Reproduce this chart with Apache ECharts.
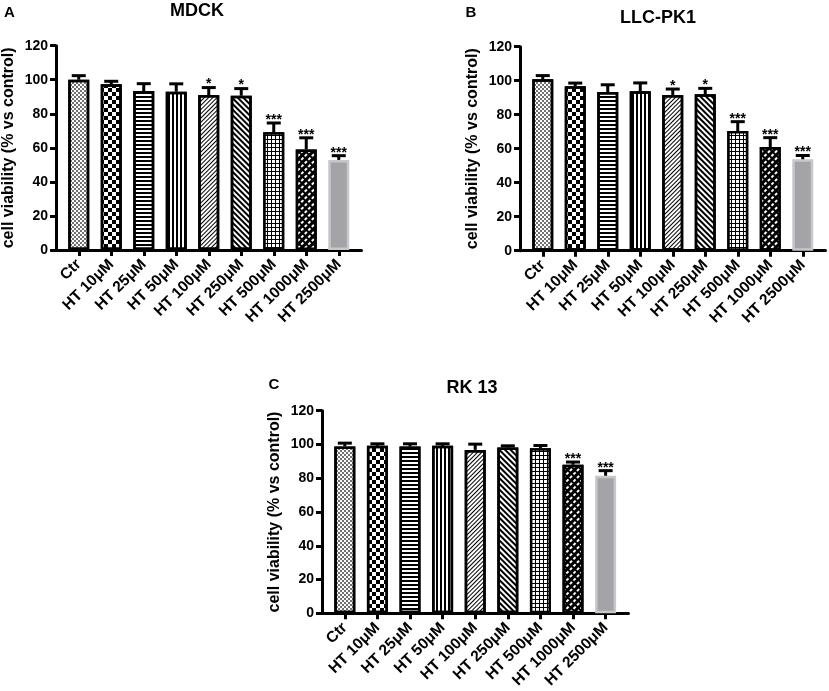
<!DOCTYPE html>
<html>
<head>
<meta charset="utf-8">
<script src="https://cdn.jsdelivr.net/npm/echarts@6/dist/echarts.min.js"></script>
<style>
  html, body { margin: 0; background: #fff; }
  #chart { width: 829px; height: 691px; }
</style>
</head>
<body>
<div id="chart"></div>
<script>
const categories = ['Ctr', 'HT 10μM', 'HT 25μM', 'HT 50μM', 'HT 100μM', 'HT 250μM', 'HT 500μM', 'HT 1000μM', 'HT 2500μM'];
const yTicks = [0, 20, 40, 60, 80, 100, 120];

// cell viability, mean and SD (% vs control)
const mdckMean = [100, 97.3, 93.4, 93, 91, 90.6, 69.1, 59.1, 52.9];
const mdckSd = [2.4, 1.8, 4.3, 4.6, 4.4, 4.2, 5.5, 6.8, 2.5];
const mdckStars = ['', '', '', '', '*', '*', '***', '***', '***'];

const llcMean = [100.8, 96.8, 93.3, 93.8, 91.6, 92, 70.4, 61, 53.8];
const llcSd = [2.2, 1.8, 4.3, 4.9, 3.5, 3.5, 5.5, 5.5, 2.2];
const llcStars = ['', '', '', '', '*', '*', '***', '***', '***'];

const rkMean = [98.8, 99.2, 98.8, 99.2, 96.8, 98.2, 97.8, 88, 81.5];
const rkSd = [2, 1.2, 1.6, 1.2, 3.4, 1, 1.6, 1.6, 3];
const rkStars = ['', '', '', '', '', '', '', '***', '***'];

const FONT = '"Liberation Sans", Arial, sans-serif';

// one fill per dose, GraphPad-like hatches
const fills = [
  { color: '#fff', decal: { color: '#222', symbol: 'rect', symbolSize: 0.85, dashArrayX: [[1.5, 1.5], [0, 1.5, 1.5, 0]], dashArrayY: [1.5, 0] } },
  { color: '#fff', decal: { color: '#000', symbol: 'rect', symbolSize: 1, dashArrayX: [[3.5, 3.5], [0, 3.5, 3.5, 0]], dashArrayY: [3.5, 0] } },
  { color: '#fff', decal: { color: '#000', symbol: 'rect', symbolSize: 1, dashArrayX: [1, 0], dashArrayY: [2, 1.3] } },
  { color: '#fff', decal: { color: '#000', symbol: 'rect', symbolSize: 1, dashArrayX: [1.6, 1.4], dashArrayY: [1, 0] } },
  { color: '#fff', decal: { color: '#000', symbol: 'rect', symbolSize: 1, dashArrayX: [1, 0], dashArrayY: [1, 1.6], rotation: -Math.PI / 4 } },
  { color: '#fff', decal: { color: '#000', symbol: 'rect', symbolSize: 1, dashArrayX: [1, 0], dashArrayY: [1.3, 1.3], rotation: Math.PI / 4 } },
  { color: '#000', decal: { color: '#fff', symbol: 'rect', symbolSize: 1, dashArrayX: [2.2, 1], dashArrayY: [2.2, 1] } },
  { color: '#000', decal: { color: '#fff', symbol: 'rect', symbolSize: 1, dashArrayX: [3, 2], dashArrayY: [1.2, 2.2], rotation: -Math.PI / 4 } },
  { color: '#a4a4a8', border: '#c8c8cc' }
];

const panels = [
  { title: 'MDCK', letter: 'A', mean: mdckMean, sd: mdckSd, stars: mdckStars,
    left: 56, top: 45.7, height: 204.3, step: 32.5, letterX: 9.5, letterY: 13, titleX: 197, titleY: 11 },
  { title: 'LLC-PK1', letter: 'B', mean: llcMean, sd: llcSd, stars: llcStars,
    left: 520, top: 46.7, height: 204, step: 32.5, letterX: 471, letterY: 13, titleX: 658, titleY: 18 },
  { title: 'RK 13', letter: 'C', mean: rkMean, sd: rkSd, stars: rkStars,
    left: 322, top: 410.7, height: 203.6, step: 32.6, letterX: 274, letterY: 385, titleX: 472, titleY: 388 }
];

const xTicks = categories.map((_, i) => i);
const boldText = (size) => ({ fontFamily: FONT, fontWeight: 'bold', fontSize: size, color: '#000' });

const barStyle = (j) => {
  const style = { color: fills[j].color, borderColor: fills[j].border || '#000', borderWidth: 2.5 };
  if (fills[j].decal) style.decal = fills[j].decal;
  return style;
};

const option = {
  backgroundColor: '#fff',
  animation: false,
  textStyle: { fontFamily: FONT },
  grid: panels.map((p) => ({ left: p.left, top: p.top, width: 9.4 * p.step, height: p.height })),
  xAxis: panels.map((p, i) => ({
    gridIndex: i,
    type: 'value',
    min: -0.7,
    max: 8.7,
    axisLine: { show: true, onZero: false, lineStyle: { color: '#000', width: 3 } },
    axisTick: { show: true, customValues: xTicks, length: 6, lineStyle: { color: '#000', width: 3 } },
    axisLabel: {
      customValues: xTicks,
      rotate: 45,
      margin: 12,
      formatter: (v) => categories[Math.round(v)],
      ...boldText(15.5)
    },
    splitLine: { show: false }
  })),
  yAxis: panels.map((p, i) => ({
    gridIndex: i,
    type: 'value',
    min: 0,
    max: 120,
    interval: 20,
    axisLine: { show: true, onZero: false, lineStyle: { color: '#000', width: 3 } },
    axisTick: { show: true, length: 6, lineStyle: { color: '#000', width: 3 } },
    axisLabel: { margin: 8, ...boldText(14) },
    splitLine: { show: false },
    name: 'cell viability (% vs control)',
    nameLocation: 'middle',
    nameGap: 39,
    nameTextStyle: boldText(16)
  })),
  graphic: panels.flatMap((p) => [
    { type: 'text', x: p.titleX, y: p.titleY,
      style: { text: p.title, align: 'center', verticalAlign: 'middle', font: `bold 18px ${FONT}`, fill: '#000' } },
    { type: 'text', x: p.letterX, y: p.letterY,
      style: { text: p.letter, align: 'center', verticalAlign: 'middle', font: `bold 15px ${FONT}`, fill: '#000' } }
  ]),
  series: panels.flatMap((p, i) => [
    {
      type: 'bar',
      xAxisIndex: i,
      yAxisIndex: i,
      barWidth: 21,
      silent: true,
      data: p.mean.map((v, j) => ({ value: [j, v], itemStyle: barStyle(j) }))
    },
    {
      type: 'custom',
      xAxisIndex: i,
      yAxisIndex: i,
      silent: true,
      z: 5,
      encode: { x: 0, y: 1 },
      data: p.mean.map((v, j) => [j, v, p.sd[j]]),
      renderItem: (params, api) => {
        const x = api.value(0);
        const m = api.value(1);
        const s = api.value(2);
        const base = api.coord([x, m]);
        const top = api.coord([x, m + s]);
        const star = p.stars[params.dataIndex];
        const lineStyle = { stroke: '#000', lineWidth: 3 };
        return {
          type: 'group',
          children: [
            { type: 'line', shape: { x1: base[0], y1: base[1], x2: top[0], y2: top[1] }, style: lineStyle },
            { type: 'line', shape: { x1: top[0] - 7, y1: top[1], x2: top[0] + 7, y2: top[1] }, style: lineStyle },
            { type: 'text', style: { text: star, x: top[0], y: top[1] + 4, align: 'center', verticalAlign: 'bottom', font: `bold 14px ${FONT}`, fill: '#000' } }
          ]
        };
      }
    }
  ])
};

const chart = echarts.init(document.getElementById('chart'), null, { renderer: 'canvas' });
chart.setOption(option);
window.addEventListener('resize', () => chart.resize());
</script>
</body>
</html>
